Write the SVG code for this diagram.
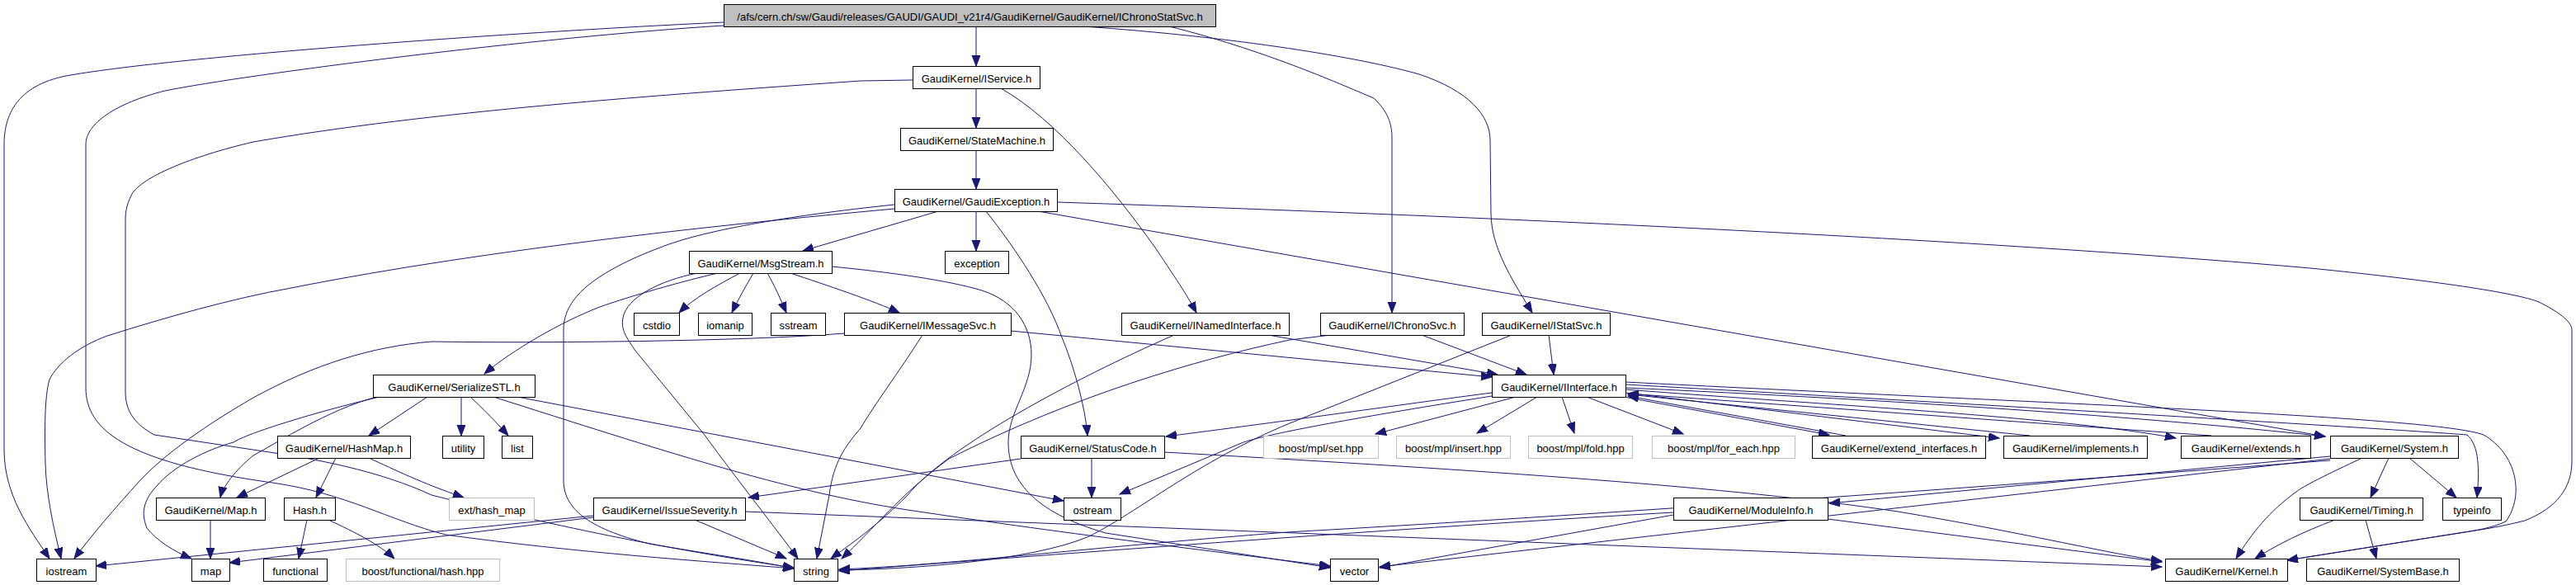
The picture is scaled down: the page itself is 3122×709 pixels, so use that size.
<svg xmlns="http://www.w3.org/2000/svg" width="3122" height="709" viewBox="0 0 3122 709">
<defs>
<marker id="a" markerUnits="userSpaceOnUse" markerWidth="14" markerHeight="11" refX="13" refY="5" orient="auto">
<path d="M0,0 L13,5 L0,10 z" fill="#191970" stroke="#191970" stroke-width="1"/>
</marker>
<style>
.n rect{fill:#fff;stroke:#000;stroke-width:1}
.g rect{stroke:#bfbfbf}
.r rect{fill:#bfbfbf}
text{font-family:"Liberation Sans",Arial,sans-serif;font-size:13px;text-anchor:middle;fill:#000}
.e path{fill:none;stroke:#191970;stroke-width:1;marker-end:url(#a)}
</style>
</defs>
<rect width="3122" height="709" fill="#fff"/>
<g id="edges" class="e">
<path d="M1183,32 V80"/>
<path d="M1183,107 V155"/>
<path d="M1183,182 V229"/>
<path d="M1183,256 V304"/>
<path d="M877,27 C600,40 200,70 80,92 C20,104 5,140 5,175 L5,545 C5,600 35,640 60,677"/>
<path d="M877,31 C650,45 300,90 200,110 C140,125 104,150 104,175 L104,470 C104,520 150,560 330,585 C420,598 470,630 540,648 C700,670 850,680 962,689"/>
<path d="M1313,32 C1500,45 1650,70 1720,90 C1780,110 1806,140 1806,170 L1807,260 C1808,300 1830,335 1857,379"/>
<path d="M1417,32 C1530,60 1620,100 1665,119 C1682,135 1687,150 1687,167 L1687,379"/>
<path d="M1213,107 C1280,145 1350,230 1400,300 C1430,345 1440,360 1450,379"/>
<path d="M1106,97 L1043,98 C800,115 520,135 307,172 C230,190 172,215 160,235 C152,250 152,260 152,270 L152,475 C152,500 165,515 187,527 L333,549 C420,562 480,580 523,600 C700,645 850,672 962,688"/>
<path d="M1084,253 C900,270 600,300 353,349 C280,362 200,385 130,407 C95,420 70,440 60,460 C54,480 54,520 55,562 C56,600 65,640 74,677"/>
<path d="M1137,256 C1090,270 1020,290 973,304"/>
<path d="M1084,248 C950,262 850,280 800,300 C760,315 720,335 700,358 C685,375 683,390 683,400 L683,582 C683,615 710,640 787,659 C850,670 920,680 962,689"/>
<path d="M1195,256 C1230,300 1270,360 1287,409 C1300,440 1315,490 1318,528"/>
<path d="M1258,256 L2818,529"/>
<path d="M1281,245 C1800,262 2400,290 2800,325 C2950,340 3050,355 3077,366 C3105,380 3117,391 3117,400 L3117,559 C3117,590 3100,615 3060,631 C3040,636 3020,640 3000,643 L2772,679"/>
<path d="M958,331 C1000,345 1060,365 1090,379"/>
<path d="M897,331 C870,345 840,362 823,379"/>
<path d="M913,331 C905,345 895,362 887,379"/>
<path d="M930,331 C938,345 946,362 953,379"/>
<path d="M870,331 C830,340 760,360 727,372 C680,390 620,425 587,453"/>
<path d="M845,331 C800,340 760,360 755,385 C752,400 760,410 770,425 L853,526 C900,590 940,640 967,677"/>
<path d="M1008,323 C1080,330 1150,340 1190,352 C1230,365 1250,395 1250,430 C1250,470 1222,500 1222,536 C1222,580 1250,620 1340,646 L1612,688"/>
<path d="M1023,404 C900,414 650,416 523,414 C450,420 380,442 307,482 C250,515 200,550 170,582 C140,615 110,650 90,677"/>
<path d="M1118,406 C1090,450 1060,490 1043,519 C1025,540 1010,560 1005,600 L990,677"/>
<path d="M1225,401 L1808,457"/>
<path d="M1423,406 C1300,460 1150,540 1100,600 C1060,640 1030,660 1007,677"/>
<path d="M1613,406 L1563,412 C1450,436 1300,480 1150,556 C1090,600 1060,640 1020,677"/>
<path d="M1537,406 L1815,454"/>
<path d="M1723,406 L1850,454"/>
<path d="M1877,406 L1883,454"/>
<path d="M1832,406 L1563,513 C1450,560 1380,620 1320,650 C1250,680 1100,690 1017,691"/>
<path d="M1808,476 C1700,490 1600,505 1413,529"/>
<path d="M1808,480 C1650,505 1540,525 1507,536 L1357,599"/>
<path d="M1837,481 L1667,526"/>
<path d="M1863,481 L1790,525"/>
<path d="M1893,481 L1908,525"/>
<path d="M1923,481 L2040,526"/>
<path d="M1968,481 L2217,527"/>
<path d="M2237,528 L1973,480"/>
<path d="M1970,476 L2423,531"/>
<path d="M2460,528 L1973,478"/>
<path d="M1970,472 C2200,490 2500,505 2637,531"/>
<path d="M2680,528 L1973,477"/>
<path d="M1970,470 C2300,485 2600,505 2818,529"/>
<path d="M1970,466 C2400,490 2900,520 2990,527 C3005,540 3005,570 3002,603"/>
<path d="M1970,463 C2500,490 2950,505 3010,527 C3050,550 3060,600 3037,632 C3020,640 3000,643 2980,646 L2772,679"/>
<path d="M2895,555 L2873,603"/>
<path d="M2920,555 L2977,603"/>
<path d="M2863,555 C2820,575 2790,590 2783,596 C2750,620 2730,645 2710,677"/>
<path d="M2824,553 L2217,610"/>
<path d="M2824,556 L1672,687"/>
<path d="M2824,558 C2400,590 2000,620 1560,645 C1300,665 1150,685 1017,690"/>
<path d="M2028,621 C1700,640 1300,670 1017,692"/>
<path d="M2028,624 L1672,688"/>
<path d="M2215,629 L2620,681"/>
<path d="M2830,630 C2790,645 2760,660 2733,677"/>
<path d="M2867,630 L2880,677"/>
<path d="M1323,555 V603"/>
<path d="M1237,556 L907,603"/>
<path d="M1411,548 C1800,570 2100,590 2300,620 C2450,645 2550,670 2620,680"/>
<path d="M903,620 L2620,687"/>
<path d="M842,630 L953,677"/>
<path d="M719,625 L116,686"/>
<path d="M719,627 L278,682"/>
<path d="M559,481 V528"/>
<path d="M570,481 C585,495 600,510 616,528"/>
<path d="M518,481 L447,528"/>
<path d="M457,481 C400,495 330,540 307,552 C285,570 270,590 267,603"/>
<path d="M460,481 C380,500 300,525 283,536 C250,545 210,565 190,589 C175,605 170,620 178,640 C190,655 210,668 232,677"/>
<path d="M627,481 L1289,607"/>
<path d="M598,481 C800,545 950,595 1100,618 C1300,648 1500,672 1612,686"/>
<path d="M387,555 L287,603"/>
<path d="M407,555 L383,603"/>
<path d="M447,555 C480,570 510,585 562,603"/>
<path d="M255,630 V677"/>
<path d="M372,630 L362,677"/>
<path d="M398,630 C430,645 460,660 478,677"/>
</g>
<g id="nodes" transform="translate(0.5 0.5)">
<g id="n_root" class="n r"><rect x="877" y="5" width="596" height="27"/><text x="1175" y="24">/afs/cern.ch/sw/Gaudi/releases/GAUDI/GAUDI_v21r4/GaudiKernel/GaudiKernel/IChronoStatSvc.h</text></g>
<g id="n_isvc" class="n"><rect x="1106" y="80" width="154" height="27"/><text x="1183" y="99">GaudiKernel/IService.h</text></g>
<g id="n_sm" class="n"><rect x="1091" y="155" width="185" height="27"/><text x="1183.5" y="174">GaudiKernel/StateMachine.h</text></g>
<g id="n_ge" class="n"><rect x="1084" y="229" width="197" height="27"/><text x="1182.5" y="248">GaudiKernel/GaudiException.h</text></g>
<g id="n_exc" class="n"><rect x="1145" y="304" width="77" height="27"/><text x="1183.5" y="323">exception</text></g>
<g id="n_ms" class="n"><rect x="835" y="304" width="173" height="27"/><text x="921.5" y="323">GaudiKernel/MsgStream.h</text></g>
<g id="n_cstdio" class="n"><rect x="768" y="379" width="55" height="27"/><text x="795.5" y="398">cstdio</text></g>
<g id="n_iomanip" class="n"><rect x="846" y="379" width="65" height="27"/><text x="878.5" y="398">iomanip</text></g>
<g id="n_sstream" class="n"><rect x="934" y="379" width="66" height="27"/><text x="967" y="398">sstream</text></g>
<g id="n_ims" class="n"><rect x="1023" y="379" width="202" height="27"/><text x="1124" y="398">GaudiKernel/IMessageSvc.h</text></g>
<g id="n_ini" class="n"><rect x="1359" y="379" width="203" height="27"/><text x="1460.5" y="398">GaudiKernel/INamedInterface.h</text></g>
<g id="n_ics" class="n"><rect x="1600" y="379" width="174" height="27"/><text x="1687" y="398">GaudiKernel/IChronoSvc.h</text></g>
<g id="n_iss" class="n"><rect x="1796" y="379" width="155" height="27"/><text x="1873.5" y="398">GaudiKernel/IStatSvc.h</text></g>
<g id="n_sstl" class="n"><rect x="452" y="454" width="196" height="27"/><text x="550" y="473">GaudiKernel/SerializeSTL.h</text></g>
<g id="n_ii" class="n"><rect x="1808" y="454" width="162" height="27"/><text x="1889" y="473">GaudiKernel/IInterface.h</text></g>
<g id="n_hm" class="n"><rect x="336" y="528" width="161" height="27"/><text x="416.5" y="547">GaudiKernel/HashMap.h</text></g>
<g id="n_utility" class="n"><rect x="536" y="528" width="50" height="27"/><text x="561" y="547">utility</text></g>
<g id="n_list" class="n"><rect x="608" y="528" width="37" height="27"/><text x="626.5" y="547">list</text></g>
<g id="n_sc" class="n"><rect x="1237" y="528" width="174" height="27"/><text x="1324" y="547">GaudiKernel/StatusCode.h</text></g>
<g id="n_set" class="n g"><rect x="1531" y="528" width="139" height="27"/><text x="1600.5" y="547">boost/mpl/set.hpp</text></g>
<g id="n_insert" class="n g"><rect x="1692" y="528" width="138" height="27"/><text x="1761" y="547">boost/mpl/insert.hpp</text></g>
<g id="n_fold" class="n g"><rect x="1852" y="528" width="126" height="27"/><text x="1915" y="547">boost/mpl/fold.hpp</text></g>
<g id="n_foreach" class="n g"><rect x="2002" y="528" width="173" height="27"/><text x="2088.5" y="547">boost/mpl/for_each.hpp</text></g>
<g id="n_extif" class="n"><rect x="2196" y="528" width="210" height="27"/><text x="2301" y="547">GaudiKernel/extend_interfaces.h</text></g>
<g id="n_impl" class="n"><rect x="2428" y="528" width="174" height="27"/><text x="2515" y="547">GaudiKernel/implements.h</text></g>
<g id="n_extends" class="n"><rect x="2643" y="528" width="157" height="27"/><text x="2721.5" y="547">GaudiKernel/extends.h</text></g>
<g id="n_system" class="n"><rect x="2824" y="528" width="155" height="27"/><text x="2901.5" y="547">GaudiKernel/System.h</text></g>
<g id="n_maph" class="n"><rect x="189" y="603" width="132" height="27"/><text x="255" y="622">GaudiKernel/Map.h</text></g>
<g id="n_hash" class="n"><rect x="344" y="603" width="62" height="27"/><text x="375" y="622">Hash.h</text></g>
<g id="n_exthm" class="n g"><rect x="544" y="603" width="103" height="27"/><text x="595.5" y="622">ext/hash_map</text></g>
<g id="n_is" class="n"><rect x="719" y="603" width="184" height="27"/><text x="811" y="622">GaudiKernel/IssueSeverity.h</text></g>
<g id="n_ostream" class="n"><rect x="1289" y="603" width="69" height="27"/><text x="1323.5" y="622">ostream</text></g>
<g id="n_mi" class="n"><rect x="2028" y="603" width="187" height="27"/><text x="2121.5" y="622">GaudiKernel/ModuleInfo.h</text></g>
<g id="n_timing" class="n"><rect x="2787" y="603" width="149" height="27"/><text x="2861.5" y="622">GaudiKernel/Timing.h</text></g>
<g id="n_typeinfo" class="n"><rect x="2960" y="603" width="71" height="27"/><text x="2995.5" y="622">typeinfo</text></g>
<g id="n_iostream" class="n"><rect x="44" y="677" width="72" height="27"/><text x="80" y="696">iostream</text></g>
<g id="n_map" class="n"><rect x="232" y="677" width="46" height="27"/><text x="255" y="696">map</text></g>
<g id="n_functional" class="n"><rect x="319" y="677" width="77" height="27"/><text x="357.5" y="696">functional</text></g>
<g id="n_bfh" class="n g"><rect x="419" y="677" width="186" height="27"/><text x="512" y="696">boost/functional/hash.hpp</text></g>
<g id="n_string" class="n"><rect x="962" y="677" width="53" height="27"/><text x="988.5" y="696">string</text></g>
<g id="n_vector" class="n"><rect x="1612" y="677" width="58" height="27"/><text x="1641" y="696">vector</text></g>
<g id="n_kernel" class="n"><rect x="2624" y="677" width="148" height="27"/><text x="2698" y="696">GaudiKernel/Kernel.h</text></g>
<g id="n_sysbase" class="n"><rect x="2795" y="677" width="185" height="27"/><text x="2887.5" y="696">GaudiKernel/SystemBase.h</text></g>
</g>
</svg>
